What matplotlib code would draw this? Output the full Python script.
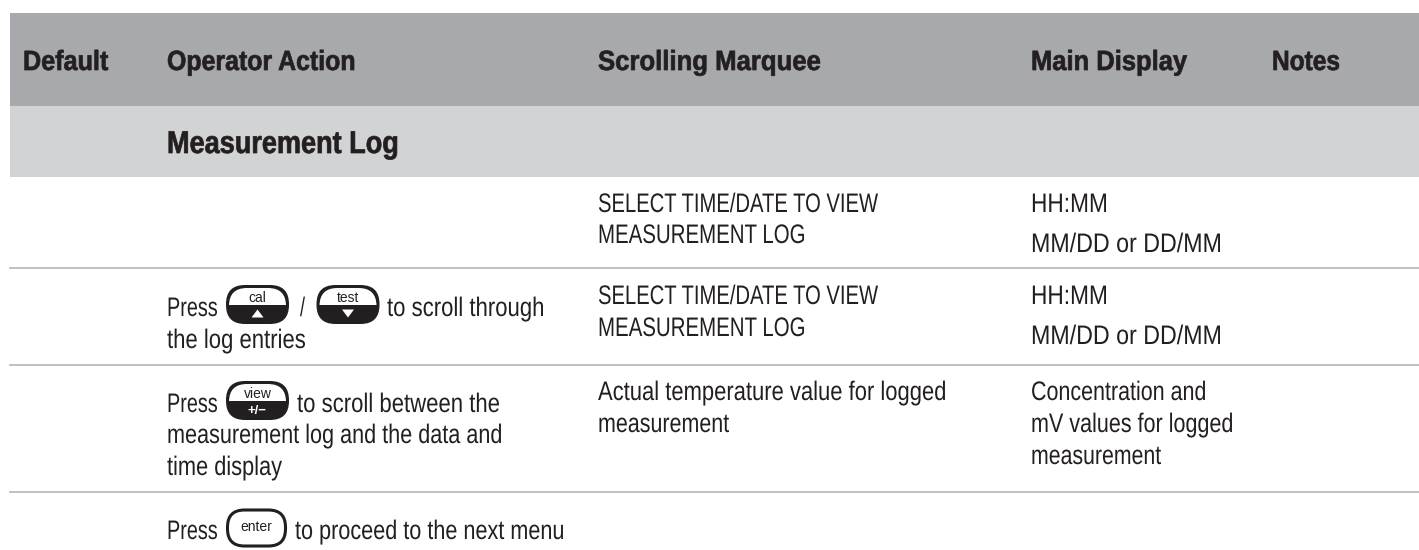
import matplotlib
matplotlib.use("Agg")
import matplotlib.pyplot as plt
from matplotlib.font_manager import FontProperties
from matplotlib.patches import Rectangle, FancyBboxPatch, Polygon
from matplotlib.text import Text
from matplotlib.textpath import TextPath
from matplotlib.transforms import Affine2D, Bbox
from matplotlib.colors import to_rgba

W, H = 1419, 550
INK = "#231f20"

headers = ["Default", "Operator Action", "Scrolling Marquee", "Main Display", "Notes"]
section = "Measurement Log"
cell_texts = [
    "SELECT TIME/DATE TO VIEW", "MEASUREMENT LOG", "HH:MM", "MM/DD or DD/MM",
    "SELECT TIME/DATE TO VIEW", "MEASUREMENT LOG", "HH:MM", "MM/DD or DD/MM",
    "Press", "/", "to scroll through", "the log entries",
    "Actual temperature value for logged", "measurement",
    "Concentration and", "mV values for logged", "measurement",
    "Press", "to scroll between the", "measurement log and the data and", "time display",
    "Press", "to proceed to the next menu",
]
button_labels = ["cal", "test", "view", "enter"]
button_symbols = ["up", "down", "+/\u2212", None]

# layout: left edge, baseline, right edge of each text, in pixels
header_layout = [(23, 108), (167, 354), (598, 820), (1031, 1187), (1272, 1339)]
section_layout = (167, 153, 397)
cell_layout = [
    (598, 212, 878), (598, 243, 804), (1031, 212, 1106), (1031, 252, 1220),
    (598, 304, 878), (598, 336, 804), (1031, 304, 1106), (1031, 344, 1220),
    (167, 316, 217), (300, 316, 305), (387, 316, 543), (167, 348, 305),
    (598, 400, 945), (598, 432, 729),
    (1031, 400, 1205), (1031, 432, 1232), (1031, 464, 1161),
    (167, 412, 217), (297, 412, 499), (167, 443, 501), (167, 475, 282),
    (167, 539, 217), (295, 539, 563),
]
button_layout = [(257.5, 304.5), (348, 304.5), (257.5, 400.5), (256.5, 528)]
row_lines = [268, 364.5, 492]


class SqueezedText(Text):
    """A real text artist whose glyphs are condensed to a set right edge."""

    def __init__(self, *args, right=None, stroke=0.0, **kw):
        super().__init__(*args, **kw)
        self._right = right
        self._stroke = stroke

    def _path(self):
        fp = self.get_fontproperties()
        size_px = fp.get_size_in_points() * self.figure.dpi / 72
        return TextPath((0, 0), self.get_text(), size=size_px, prop=fp)

    def _squeeze(self):
        x = self.get_transform().transform(self.get_position())[0]
        rx = self.get_transform().transform((self._right, 0))[0]
        return (rx - x) / self._path().get_extents().x1

    def get_window_extent(self, renderer=None, dpi=None):
        b = super().get_window_extent(renderer, dpi)
        return Bbox.from_extents(b.x0, b.y0, b.x0 + b.width * self._squeeze(), b.y1)

    def draw(self, renderer):
        if not self.get_visible():
            return
        x, y = self.get_transform().transform(self.get_position())
        tr = Affine2D().scale(self._squeeze(), 1).translate(x, y)
        gc = renderer.new_gc()
        gc.set_foreground(self.get_color())
        gc.set_linewidth(self._stroke)
        gc.set_antialiased(True)
        renderer.draw_path(gc, self._path(), tr, to_rgba(self.get_color()))
        gc.restore()


fig = plt.figure(figsize=(W / 100, H / 100), dpi=100)
ax = fig.add_axes([0, 0, 1, 1])
ax.set_xlim(0, W)
ax.set_ylim(H, 0)
ax.axis("off")


def stext(x, y, t, right, size, weight="normal", stroke=0.0):
    fp = FontProperties(family="Liberation Sans", weight=weight, size=size)
    a = SqueezedText(x, y, t, right=right, stroke=stroke, fontproperties=fp,
                     color=INK, va="baseline", ha="left")
    ax.add_artist(a)


ax.add_patch(Rectangle((10, 13), W - 10, 93, fc="#a7a9ac", ec="none"))
ax.add_patch(Rectangle((10, 106), W - 10, 71, fc="#d1d3d4", ec="none"))
for y in row_lines:
    ax.plot([10, W], [y, y], color="#b5b6b8", lw=1.2)

for (x, r), t in zip(header_layout, headers):
    stext(x, 70, t, r, 20, "bold", 0.5)
stext(section_layout[0], section_layout[1], section, section_layout[2], 22.7, "bold", 0.5)
for (x, y, r), t in zip(cell_layout, cell_texts):
    stext(x, y, t, r, 19.3)


def button(cx, cy, label, sym):
    w, h = 63, 39
    x0, y0 = cx - w / 2, cy - h / 2
    ax.add_patch(FancyBboxPatch((x0 + 19, y0 + 19), w - 38, h - 38,
                                boxstyle="round,pad=19,rounding_size=19", fc=INK, ec="none"))
    top = FancyBboxPatch((x0 + 21, y0 + 21), w - 42, h - 36,
                         boxstyle="round,pad=18,rounding_size=18", fc="white", ec="none")
    ax.add_patch(top)
    top.set_clip_path(Rectangle((x0, y0), w, h / 2, transform=ax.transData))
    ax.text(cx, cy - 7, label, family="Liberation Sans", fontsize=10, color=INK, ha="center", va="center")
    if sym == "up":
        ax.add_patch(Polygon([(cx - 6, cy + 13), (cx + 6, cy + 13), (cx, cy + 5)], fc="white", ec="none"))
    elif sym == "down":
        ax.add_patch(Polygon([(cx - 6, cy + 5), (cx + 6, cy + 5), (cx, cy + 13)], fc="white", ec="none"))
    else:
        ax.text(cx, cy + 10, sym, family="Liberation Sans", weight="bold", fontsize=9.5,
                color="white", ha="center", va="center")


def plain_button(cx, cy, label):
    ax.add_patch(FancyBboxPatch((cx - 12, cy - 1), 24, 2, boxstyle="round,pad=17,rounding_size=17",
                                fc="white", ec=INK, lw=2.2))
    ax.text(cx, cy - 1, label, family="Liberation Sans", fontsize=10, color=INK, ha="center", va="center")


for (cx, cy), label, sym in zip(button_layout, button_labels, button_symbols):
    if sym is None:
        plain_button(cx, cy, label)
    else:
        button(cx, cy, label, sym)

fig.savefig("out.png", dpi=100)
